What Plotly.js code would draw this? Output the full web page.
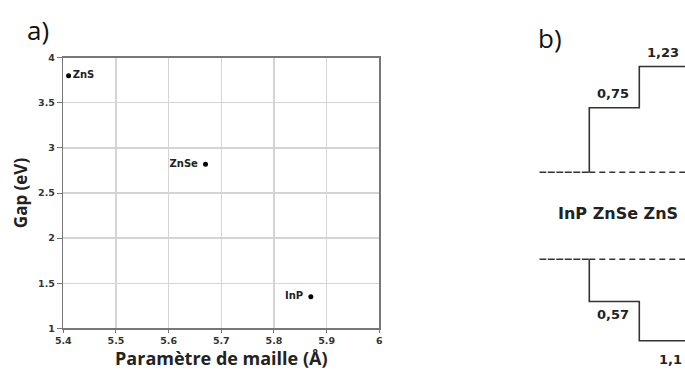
<!DOCTYPE html>
<html>
<head>
<meta charset="utf-8">
<script src="https://cdn.plot.ly/plotly-3.0.1.min.js"></script>
<style>html,body{margin:0;padding:0;background:#fff}#chart{width:685px;height:372px}</style>
</head>
<body>
<div id="chart"></div>
<script>
// ---- Panel a: gap vs lattice parameter ----
const materials = ['ZnS', 'ZnSe', 'InP'];
const latticeParam = [5.41, 5.67, 5.87];   // Å
const gapEV = [3.80, 2.82, 1.35];          // eV
const labelPos = ['middle right', 'middle left', 'middle left'];
const xTickVals = [5.4, 5.5, 5.6, 5.7, 5.8, 5.9, 6];
const xTickText = ['5.4', '5.5', '5.6', '5.7', '5.8', '5.9', '6'];
const yTickVals = [1, 1.5, 2, 2.5, 3, 3.5, 4];
const yTickText = ['1', '1.5', '2', '2.5', '3', '3.5', '4'];

// ---- Panel b: band offsets diagram ----
const bandMaterials = ['InP', 'ZnSe', 'ZnS'];
const cbOffsets = [0, 0.75, 1.23];   // conduction band offsets (eV)
const vbOffsets = [0, -0.57, -1.1];  // valence band offsets (eV)

const fmt = v => String(Math.abs(v)).replace('.', ',');
const W = 685, H = 372;
const px = (a, b) => [a / W, b / W];
const py = (top, bottom) => [1 - bottom / H, 1 - top / H];

const dark = '#333333';
const traces = [];

traces.push({
  type: 'scatter', mode: 'markers+text', x: latticeParam, y: gapEV,
  text: materials.map(m => m + ' '), textposition: labelPos,
  textfont: {family: 'DejaVu Sans, Verdana, sans-serif', size: 10, color: '#222', weight: 'bold'},
  marker: {color: '#000', size: 5}, xaxis: 'x', yaxis: 'y', cliponaxis: false, hoverinfo: 'skip'
});

// Step lines for conduction band (upper) and valence band (lower)
function stepTrace(offsets, yax) {
  const xs = [], ys = [];
  for (let i = 1; i < offsets.length; i++) {
    xs.push(i, i, i + 1);
    ys.push(offsets[i - 1], offsets[i], offsets[i]);
  }
  return {type: 'scatter', mode: 'lines', x: xs, y: ys, xaxis: 'x2', yaxis: yax,
          line: {color: dark, width: 1.6}, hoverinfo: 'skip', cliponaxis: true};
}
traces.push(stepTrace(cbOffsets, 'y2'));
traces.push(stepTrace(vbOffsets, 'y3'));
// InP band edges (densely dashed)
traces.push({type: 'scatter', mode: 'lines', x: [0, 1], y: [cbOffsets[0], cbOffsets[0]], xaxis: 'x2', yaxis: 'y2',
  line: {color: dark, width: 1.6, dash: '7px,1.5px'}, hoverinfo: 'skip'});
traces.push({type: 'scatter', mode: 'lines', x: [0, 1], y: [vbOffsets[0], vbOffsets[0]], xaxis: 'x2', yaxis: 'y3',
  line: {color: dark, width: 1.6, dash: '7px,1.5px'}, hoverinfo: 'skip'});
// Reference dashed lines
traces.push({type: 'scatter', mode: 'lines', x: [1, bandMaterials.length], y: [cbOffsets[0], cbOffsets[0]], xaxis: 'x2', yaxis: 'y2',
  line: {color: dark, width: 1.4, dash: '6px,4px'}, hoverinfo: 'skip'});
traces.push({type: 'scatter', mode: 'lines', x: [1, bandMaterials.length], y: [vbOffsets[0], vbOffsets[0]], xaxis: 'x2', yaxis: 'y3',
  line: {color: dark, width: 1.4, dash: '6px,4px'}, hoverinfo: 'skip'});

const annFont = {family: 'DejaVu Sans, Verdana, sans-serif', size: 13, color: '#222', weight: 'bold'};
const annotations = [
  {text: 'a)', xref: 'paper', yref: 'paper', x: 25 / W, y: 1 - 30 / H, xanchor: 'left', yanchor: 'middle',
   showarrow: false, font: {family: 'Open Sans, sans-serif', size: 26, color: '#111'}},
  {text: 'b)', xref: 'paper', yref: 'paper', x: 536 / W, y: 1 - 38 / H, xanchor: 'left', yanchor: 'middle',
   showarrow: false, font: {family: 'Open Sans, sans-serif', size: 26, color: '#111'}},
  {text: bandMaterials.join(' '), xref: 'paper', yref: 'paper', x: 618 / W, y: 1 - 213 / H,
   xanchor: 'center', yanchor: 'middle', showarrow: false,
   font: {family: 'DejaVu Sans, Verdana, sans-serif', size: 16, color: '#222', weight: 'bold'}}
];
const cbShift = [0, 14, 14];
const vbShift = [0, -13, -19];
for (let i = 1; i < bandMaterials.length; i++) {
  annotations.push({text: fmt(cbOffsets[i]), xref: 'x2', yref: 'y2', x: i + 0.47, y: cbOffsets[i],
    yshift: cbShift[i], xanchor: 'center', yanchor: 'middle', showarrow: false, font: annFont});
  annotations.push({text: fmt(vbOffsets[i]), xref: 'x2', yref: 'y3', x: i + 0.47 + (i === 2 ? 0.15 : 0), y: vbOffsets[i],
    yshift: vbShift[i], xanchor: 'center', yanchor: 'middle', showarrow: false, font: annFont});
}

const tickFont = {family: 'DejaVu Sans, Verdana, sans-serif', size: 9.5, color: '#333', weight: 'bold'};
const titleFont = {family: 'Open Sans, sans-serif', size: 18, color: '#222', weight: 'bold'};

const layout = {
  width: W, height: H, margin: {l: 0, r: 0, t: 0, b: 0},
  paper_bgcolor: '#fff', plot_bgcolor: '#fff', showlegend: false,
  font: {family: 'Liberation Sans, Arial, sans-serif'},
  xaxis: {
    domain: px(63.3, 379.3), range: [5.4, 6], tickvals: xTickVals, ticktext: xTickText,
    showgrid: true, gridcolor: '#d4d4d4', gridwidth: 1.3, zeroline: false,
    showline: true, linecolor: '#777', linewidth: 1.5, mirror: true,
    ticks: 'outside', ticklen: 3, tickcolor: '#777', tickfont: tickFont,
    title: {text: 'Paramètre de maille (Å)', font: titleFont, standoff: 2}, anchor: 'y'
  },
  yaxis: {
    domain: py(57.7, 328.3), range: [1, 4], tickvals: yTickVals, ticktext: yTickText,
    showgrid: true, gridcolor: '#d4d4d4', gridwidth: 1.3, zeroline: false,
    showline: true, linecolor: '#777', linewidth: 1.5, mirror: true,
    ticks: 'outside', ticklen: 5, tickcolor: '#777', tickfont: tickFont,
    title: {text: 'Gap (eV)', font: {family: 'Open Sans, sans-serif', size: 17, color: '#222', weight: 'bold'}, standoff: 6}, anchor: 'x'
  },
  xaxis2: {domain: px(539.3, 685), range: [0, 145.7 / 50], visible: false, anchor: 'y2'},
  yaxis2: {domain: py(0, 215), range: [-(215 - 172.3) / 86, 172.3 / 86], visible: false, anchor: 'x2'},
  yaxis3: {domain: py(215, 372), range: [-(372 - 259.3) / 74, (259.3 - 215) / 74], visible: false, anchor: 'x2'},
  annotations: annotations
};

Plotly.newPlot('chart', traces, layout, {staticPlot: true, displayModeBar: false});
</script>
</body>
</html>
